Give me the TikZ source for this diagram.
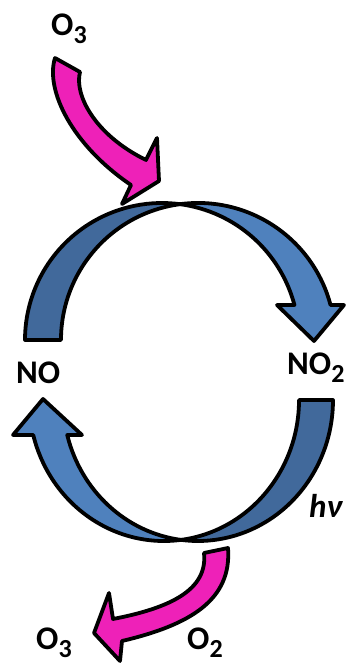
\documentclass[tikz,border=0pt]{standalone}
\usepackage{fontspec}
\setmainfont{Carlito}
\definecolor{bluelight}{HTML}{4F81BD}
\definecolor{bluedark}{HTML}{41699B}
\definecolor{pinkfill}{HTML}{EE21B8}
\newcommand\chemsub[2]{#1\raisebox{-0.24em}{\fontsize{26}{26}\selectfont #2}}
\tikzset{
  outl/.style={draw=black, line width=3.8pt, line join=round},
  lbl/.style={font=\bfseries\fontsize{33}{33}\selectfont, inner sep=0pt, anchor=base west}
}
\begin{document}
\begin{tikzpicture}[x=1pt,y=1pt]
\useasboundingbox (0,0) rectangle (347,664);
% ---- top cycle arrow (NO -> NO2) ----
% back (dark) part
\path[outl, fill=bluedark] (25,324) arc[start angle=180, end angle=82.45, radius=137]
  arc[start angle=97.55, end angle=180, radius=137] -- cycle;
% front (light) part with head
\path[outl, fill=bluelight] (180.06,459.83) arc[start angle=97.55, end angle=14.8, radius=137]
  -- (344,359) -- (314,323) -- (277,359) -- (294.45,359)
  arc[start angle=14.8, end angle=82.45, radius=137] -- cycle;
% ---- bottom cycle arrow (NO2 -> NO) ----
\path[outl, fill=bluedark] (333,264) arc[start angle=0, end angle=-97.23, x radius=135, y radius=141]
  arc[start angle=-82.77, end angle=0, x radius=135, y radius=141] -- cycle;
\path[outl, fill=bluelight] (181,124.12) arc[start angle=-82.77, end angle=-165.63, x radius=135, y radius=141]
  -- (13,229) -- (43,265) -- (82,229) -- (67.23,229)
  arc[start angle=-165.63, end angle=-97.23, x radius=135, y radius=141] -- cycle;
% ---- pink arrows ----
\path[outl, fill=pinkfill] (55,606) .. controls (45,574) and (72,519) .. (131,479)
  -- (122,460) -- (159,483) -- (157,526) -- (146,504)
  .. controls (95,529) and (74,569) .. (80,592) -- cycle;
\path[outl, fill=pinkfill] (204,111) -- (228,116) .. controls (232,64) and (190,39) .. (122,23)
  -- (120,3) -- (94,31) -- (109,71) -- (113,45)
  .. controls (170,56) and (208,74) .. (204,111) -- cycle;
% ---- labels ----
\node[lbl] (o3top) at (51,628) {\chemsub{O}{3}};
\node[lbl] (no) at (16,280) {NO};
\node[lbl] (no2) at (287,289) {\chemsub{NO}{2}};
\node[lbl] (o3bot) at (36,14) {\chemsub{O}{3}};
\node[lbl] (o2) at (187,14) {\chemsub{O}{2}};
\node[lbl, font=\bfseries\itshape\fontsize{33}{33}\selectfont] (hv) at (309,146) {hν};
\end{tikzpicture}
\end{document}
